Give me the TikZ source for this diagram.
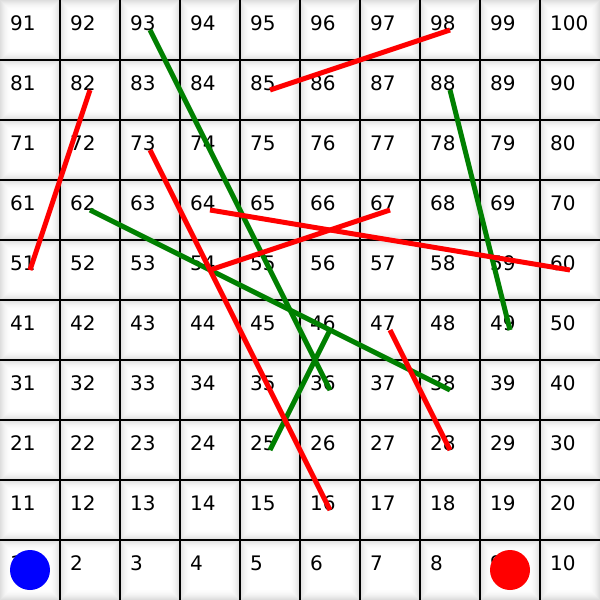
\documentclass[tikz,border=0pt]{standalone}
\usepackage{fontspec}
\setmainfont{DejaVu Sans}
\begin{document}
\begin{tikzpicture}[x=1pt,y=-1pt,
  cellnode/.style={minimum size=60pt,inner sep=0pt,outer sep=0pt},
  num/.style={anchor=base west,inner sep=0pt,font=\fontsize{20}{20}\selectfont,text=black},
  grid/.style={black,line width=2pt},
  ladder/.style={draw={rgb,255:red,0;green,128;blue,0},line width=5pt},
  snake/.style={draw=red,line width=5pt},
  token/.style={circle,minimum size=40pt,inner sep=0pt}]
\useasboundingbox (0,0) rectangle (600,600);
\fill[white] (0,0) rectangle (600,600);
\foreach \r in {0,...,9}{
  \foreach \c in {0,...,9}{
    \pgfmathtruncatemacro\n{(9-\r)*10+\c+1}
    \fill[black!13] (\c*60,\r*60) rectangle ++(60,60);
    \foreach \k/\g in {1/11,2/9,3/7,4/5.5,5/4,6/3,7/2,8/1.2,9/0.6,10/0}{
      \fill[black!\g] (\c*60+\k,\r*60+\k) rectangle (\c*60+60-\k,\r*60+60-\k);
    }
    \node[cellnode] (c\n) at (\c*60+30,\r*60+30) {};
    \node[num] (t\n) at (\c*60+10,\r*60+30) {\n};
  }
}
\foreach \i in {1,...,9}{
  \draw[grid] (\i*60,0) -- (\i*60,600);
  \draw[grid] (0,\i*60) -- (600,\i*60);
}
% ladders
\draw[ladder] (c93.center) -- (c36.center);
\draw[ladder] (c88.center) -- (c49.center);
\draw[ladder] (c62.center) -- (c38.center);
\draw[ladder] (c25.center) -- (c46.center);
% snakes
\draw[snake] (c98.center) -- (c85.center);
\draw[snake] (c82.center) -- (c51.center);
\draw[snake] (c73.center) -- (c16.center);
\draw[snake] (c64.center) -- (c60.center);
\draw[snake] (c67.center) -- (c54.center);
\draw[snake] (c47.center) -- (c28.center);
% tokens
\node[token,fill=blue] (p1) at (c1.center) {};
\node[token,fill=red] (p2) at (c9.center) {};
\end{tikzpicture}
\end{document}
